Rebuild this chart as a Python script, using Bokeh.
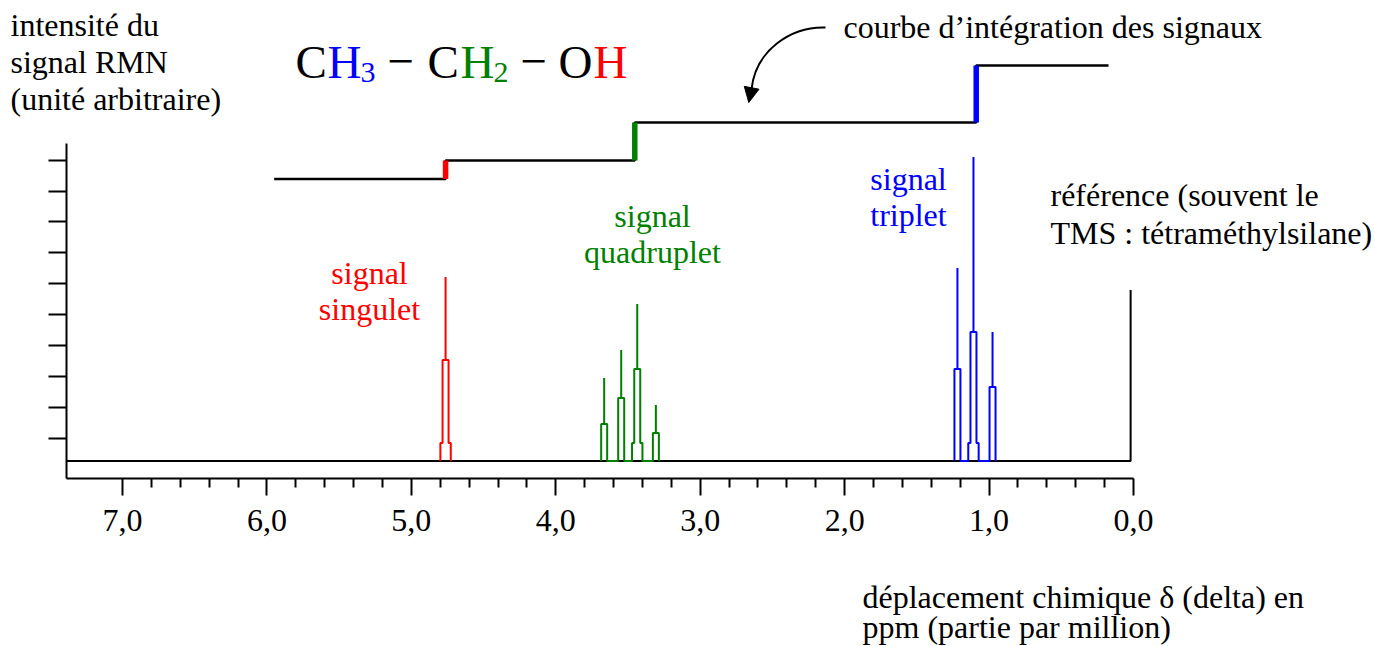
from bokeh.plotting import figure
from bokeh.models import Range1d, FixedTicker, Label, Arrow, NormalHead
from bokeh.embed import file_html
from bokeh.resources import INLINE

# ---------------- data (chemical shift in ppm, intensity in arbitrary units) ----------------
singlet_centers = [4.763]
singlet_tops = [184]
singlet_shoulders = [101]
singlet_feet = [18]

quartet_centers = [3.665, 3.547, 3.436, 3.307]
quartet_tops = [83, 111, 157, 56]
quartet_shoulders = [37, 63, 92, 28]
quartet_feet = [0, 0, 18, 0]

triplet_centers = [1.219, 1.108, 0.976]
triplet_tops = [193, 304, 129]
triplet_shoulders = [92, 129, 74]
triplet_feet = [0, 18, 0]

tms_shift = 0.02
tms_height = 171

integ_breaks = [5.95, 4.763, 3.453, 1.089, 0.173]
integ_levels = [282, 300.5, 338.5, 395.5]

x_ticks = [0, 1, 2, 3, 4, 5, 6, 7]
x_tick_labels = ["0,0", "1,0", "2,0", "3,0", "4,0", "5,0", "6,0", "7,0"]
x_minor_ticks = [k / 5 for k in range(1, 35) if k % 5]
y_ticks = [23, 54, 85, 116, 147, 178, 209, 240, 270, 301]

RED, GREEN, BLUE = "#ff0000", "#008000", "#0000ff"
integ_colors = [RED, GREEN, BLUE]
FONT = "Liberation Serif"

# ---------------- geometry ----------------
W, H = 1375, 646
PX = 144.43            # pixels per ppm


def X(px):  # canvas x -> ppm
    return (1133 - px) / PX


def Y(py):  # canvas y -> intensity units
    return 460.5 - py


X_AXIS_LEFT = X(66)
Y_AXIS_LOW = Y(478)

p = figure(width=W, height=H, x_range=Range1d(X(0), X(W)), y_range=Range1d(Y(H), Y(0)),
           output_backend="svg", toolbar_location=None,
           min_border_left=0, min_border_right=0, min_border_top=0, min_border_bottom=0)
p.outline_line_color = None
p.grid.visible = False
p.background_fill_color = "white"
p.border_fill_color = "white"

# x axis
xa = p.xaxis[0]
xa.fixed_location = Y_AXIS_LOW
xa.bounds = (0, X_AXIS_LEFT)
xa.ticker = FixedTicker(ticks=x_ticks, minor_ticks=x_minor_ticks)
xa.major_label_overrides = {t: l for t, l in zip(x_ticks, x_tick_labels)}
xa.major_tick_in = 0
xa.major_tick_out = 17
xa.minor_tick_in = 0
xa.minor_tick_out = 9
xa.axis_line_width = 2
xa.major_tick_line_width = 2
xa.minor_tick_line_width = 2
xa.major_label_text_font = FONT
xa.major_label_text_font_size = "32px"
xa.major_label_text_color = "black"
xa.major_label_standoff = 14

# y axis
ya = p.yaxis[0]
ya.fixed_location = X_AXIS_LEFT
ya.ticker = FixedTicker(ticks=y_ticks, minor_ticks=[])
ya.bounds = (Y_AXIS_LOW, Y(143))
ya.major_tick_in = 0
ya.major_tick_out = 18
ya.minor_tick_line_color = None
ya.axis_line_width = 2
ya.major_tick_line_width = 2
ya.major_label_text_color = None

# ---------------- spectrum ----------------
WS = 3.0 / PX
WF = 5.2 / PX


def outline(centers, tops, shoulders, feet):
    xs, ys = [], []
    for c, t, s, f in zip(centers, tops, shoulders, feet):
        if f > 0:
            xs += [c + WF, c + WF, c + WS, c + WS, c, c, c, c - WS, c - WS, c - WF, c - WF]
            ys += [0, f, f, s, s, t, s, s, f, f, 0]
        else:
            xs += [c + WS, c + WS, c, c, c, c - WS, c - WS]
            ys += [0, s, s, t, s, s, 0]
    return xs, ys


# black baseline + TMS reference peak
p.line([X_AXIS_LEFT, tms_shift, tms_shift], [0, 0, tms_height], line_color="black", line_width=2)

for (cs, ts, ss, fs), col in [((singlet_centers, singlet_tops, singlet_shoulders, singlet_feet), RED),
                              ((quartet_centers, quartet_tops, quartet_shoulders, quartet_feet), GREEN),
                              ((triplet_centers, triplet_tops, triplet_shoulders, triplet_feet), BLUE)]:
    xs, ys = outline(cs, ts, ss, fs)
    p.line(xs, ys, line_color=col, line_width=2)

# integration curve
ix, iy = [], []
for i, lvl in enumerate(integ_levels):
    ix += [integ_breaks[i], integ_breaks[i + 1]]
    iy += [lvl, lvl]
p.line(ix, iy, line_color="black", line_width=2.5)
p.segment(x0=integ_breaks[1:4], y0=integ_levels[:-1], x1=integ_breaks[1:4], y1=integ_levels[1:],
          line_color=integ_colors, line_width=5.5)

# curved arrow
p.bezier(x0=[X(825)], y0=[Y(27)], x1=[X(751)], y1=[Y(89)],
         cx0=[X(790)], cy0=[Y(26)], cx1=[X(755)], cy1=[Y(50)], line_color="black", line_width=2)
p.add_layout(Arrow(x_start=X(751), y_start=Y(88), x_end=X(748.3), y_end=Y(102),
                   line_width=2, line_color="black",
                   end=NormalHead(size=15, fill_color="black", line_color="black")))


# ---------------- texts ----------------
def txt(s, px, py, color="black", size=32, align="left"):
    # py is the wanted baseline; Bokeh's alphabetic anchor sits ~0.34 em higher
    p.add_layout(Label(x=X(px), y=Y(py - 0.34 * size), text=s, text_color=color, text_font=FONT,
                       text_font_size=f"{size}px", text_align=align, text_baseline="alphabetic"))


txt("intensité du", 10, 35)
txt("signal RMN", 10, 72)
txt("(unité arbitraire)", 10, 109)

# formula CH3 - CH2 - OH
txt("C", 295, 77, size=47)
txt("H", 327, 77, BLUE, 47)
txt("3", 360, 82, BLUE, 30)
txt("\u2212", 387, 77, size=47)
txt("C", 427, 77, size=47)
txt("H", 460, 77, GREEN, 47)
txt("2", 493, 82, GREEN, 30)
txt("\u2212", 520, 77, size=47)
txt("O", 558, 77, size=47)
txt("H", 593, 77, RED, 47)

txt("courbe d\u2019intégration des signaux", 843, 37)

txt("signal", 369, 283, RED, align="center")
txt("singulet", 369, 319, RED, align="center")
txt("signal", 652, 226, GREEN, align="center")
txt("quadruplet", 652, 262, GREEN, align="center")
txt("signal", 908, 189, BLUE, align="center")
txt("triplet", 908, 225, BLUE, align="center")

txt("référence (souvent le", 1050, 205)
txt("TMS : tétraméthylsilane)", 1050, 243)

txt("déplacement chimique δ (delta) en", 862, 607)
txt("ppm (partie par million)", 862, 637)

open("out.html", "w").write(file_html(p, INLINE))
